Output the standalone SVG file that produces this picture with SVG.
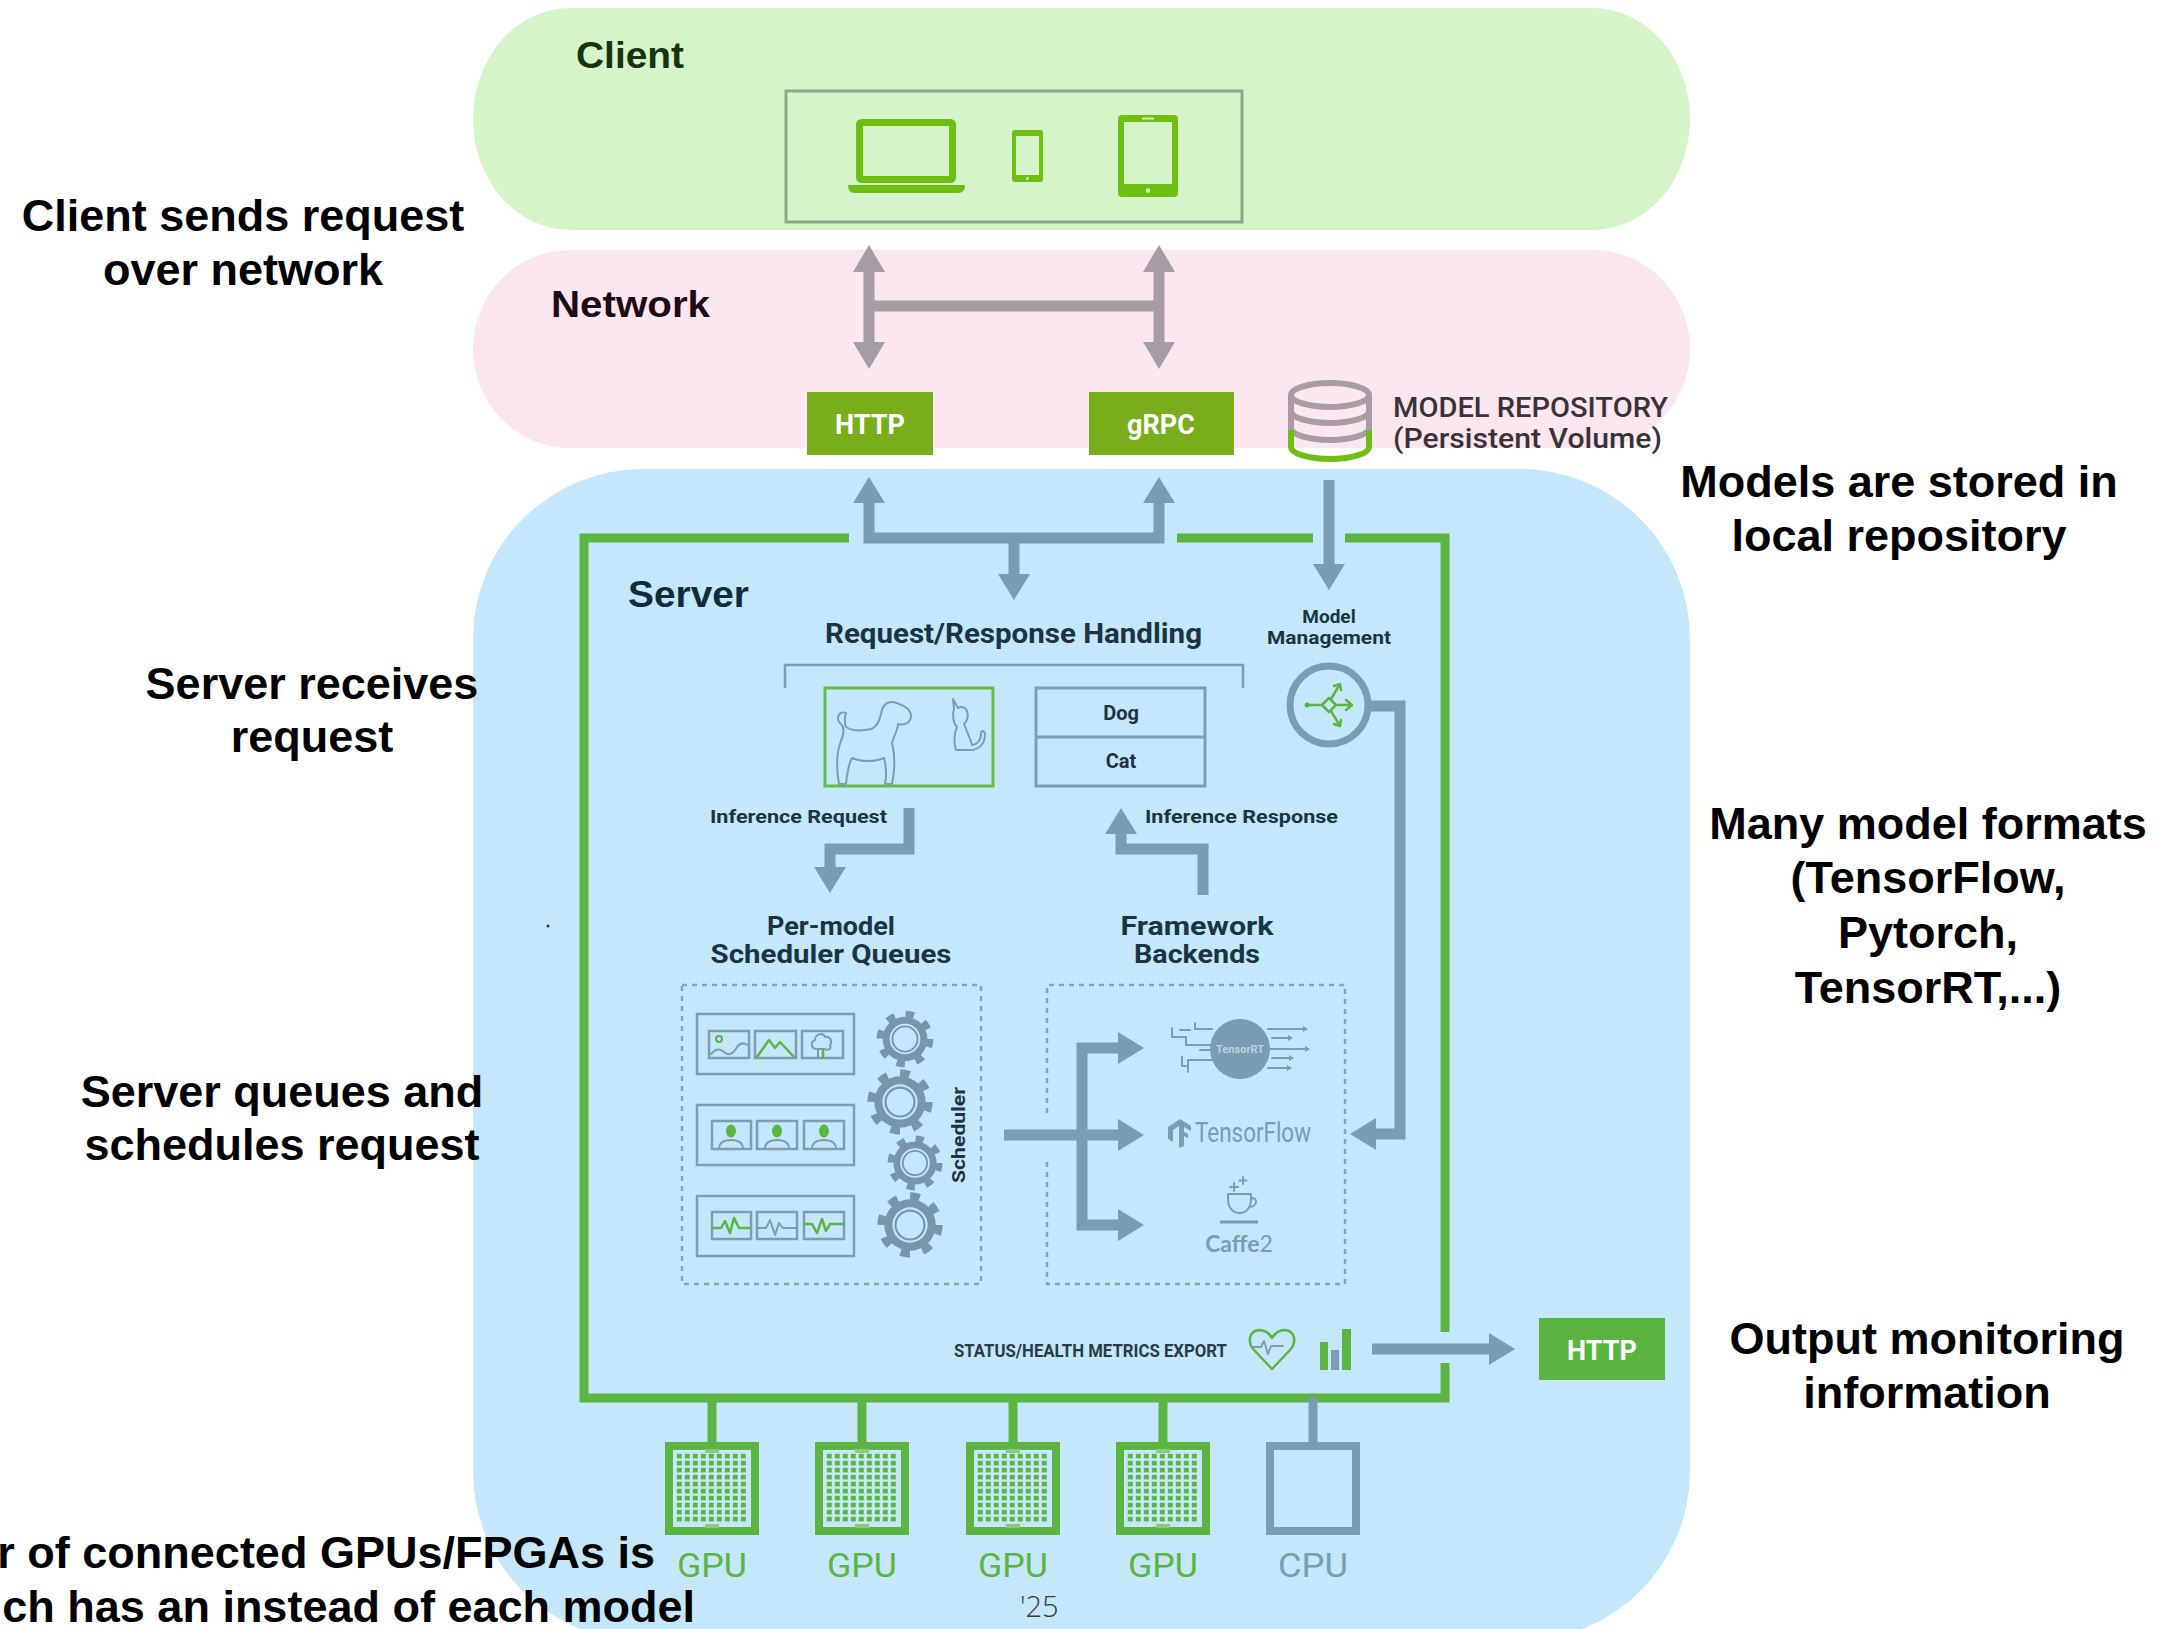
<svg xmlns="http://www.w3.org/2000/svg" xmlns:xlink="http://www.w3.org/1999/xlink" width="2176" height="1629" viewBox="0 0 2176 1629">
<style>
  .ann{font-family:"Liberation Sans",Arial,Helvetica,sans-serif;font-weight:bold;font-size:45px;fill:#000;text-anchor:middle}
  .zone{font-family:"Liberation Sans",Arial,Helvetica,sans-serif;font-weight:bold;font-size:37px}
  .din{font-family:Roboto,"DejaVu Sans",sans-serif;font-weight:bold;fill:#1b3444}
  .thin{fill:none;stroke:#7f9db0;stroke-width:2.5}
  .flow{fill:none;stroke:#7b9cb2;stroke-width:11;stroke-linejoin:miter}
  .net{fill:none;stroke:#a59ca6;stroke-width:11}
  .bus{fill:none;stroke:#5cb443;stroke-width:9}
  .gl{fill:none;stroke:#5cb443;stroke-width:2.5;stroke-linecap:round;stroke-linejoin:round}
  .gy{fill:none;stroke:#7f9db0;stroke-width:2;stroke-linecap:round;stroke-linejoin:round}
  .dev{fill:#6fbf12}
  .btn{font-family:Roboto,"DejaVu Sans",sans-serif;font-weight:bold;font-size:27px;fill:#fff;text-anchor:middle}
  .chip{font-family:Roboto,"Liberation Sans",sans-serif;font-size:33px;text-anchor:middle}
</style>
<defs>
  <marker id="hf" markerUnits="userSpaceOnUse" markerWidth="26" markerHeight="32" viewBox="0 0 26 32" refX="0" refY="16" orient="auto-start-reverse">
    <path d="M0,0 L26,16 L0,32 z" fill="#7b9cb2"/>
  </marker>
  <marker id="hn" markerUnits="userSpaceOnUse" markerWidth="27" markerHeight="32" viewBox="0 0 27 32" refX="0" refY="16" orient="auto-start-reverse">
    <path d="M0,0 L27,16 L0,32 z" fill="#a59ca6"/>
  </marker>
  <pattern id="dots" patternUnits="userSpaceOnUse" x="11" y="11" width="8" height="7">
    <rect x="0.8" y="0.8" width="5" height="4.6" fill="#5cb443"/>
  </pattern>
  <g id="gear">
    <circle r="27" fill="none" stroke="#7895a9" stroke-width="7" stroke-dasharray="9 12.2"/>
    <circle r="24" fill="#7895a9"/>
    <circle r="16.5" fill="#c4e7fb"/>
    <circle r="13.5" fill="none" stroke="#7895a9" stroke-width="2"/>
  </g>
  <g id="gpu">
    <rect x="4" y="4" width="86" height="85" fill="#c4e7fb" stroke="#5cb443" stroke-width="8"/>
    <rect x="11" y="11" width="72" height="70" fill="url(#dots)"/>
    <rect x="40" y="7" width="14" height="4" fill="#8cc97a"/>
    <rect x="40" y="82" width="14" height="4" fill="#8cc97a"/>
  </g>
</defs>

<!-- layer bands -->
<g id="client">
  <rect x="473" y="8" width="1217" height="222" rx="97" ry="111" fill="#d6f4ca"/>
  <text class="zone" x="576" y="68" fill="#17330f" textLength="108" lengthAdjust="spacingAndGlyphs">Client</text>
  <rect x="786" y="91" width="456" height="131" fill="none" stroke="#8ea98a" stroke-width="3"/>
  <!-- laptop -->
  <rect x="859.5" y="122.5" width="93" height="57" rx="2" fill="none" stroke="#6fbf12" stroke-width="7"/>
  <path class="dev" d="M848,185 H965 Q965,193 958,193 H855 Q848,193 848,185 z"/>
  <!-- phone -->
  <rect class="dev" x="1012" y="130" width="31" height="52" rx="3"/>
  <rect x="1016" y="136" width="23" height="39" fill="#d6f4ca"/>
  <circle cx="1027.5" cy="178.5" r="1.5" fill="#d6f4ca"/>
  <!-- tablet -->
  <rect class="dev" x="1118" y="115" width="60" height="82" rx="4"/>
  <rect x="1124" y="122" width="48" height="62" fill="#d6f4ca"/>
  <rect x="1142" y="117.5" width="12" height="2" fill="#d6f4ca"/>
  <circle cx="1148" cy="190.5" r="2.2" fill="#d6f4ca"/>
</g>

<g id="network">
  <rect x="473" y="250" width="1217" height="198" rx="97" ry="99" fill="#fce6ef"/>
  <text class="zone" x="551" y="317" fill="#1e0c15" textLength="159" lengthAdjust="spacingAndGlyphs">Network</text>
</g>

<g id="server-zone">
  <rect x="473" y="469" width="1217" height="1172" rx="170" ry="170" fill="#c4e7fb"/>
</g>

<g id="http-in">
  <rect x="807" y="392" width="126" height="63" fill="#78ad1c"/>
  <text class="btn" x="870" y="434">HTTP</text>
</g>
<g id="grpc-in">
  <rect x="1089" y="392" width="145" height="63" fill="#78ad1c"/>
  <text class="btn" x="1161" y="434">gRPC</text>
</g>

<g id="model-repository">
  <path d="M1291,395 V430 M1369,395 V430" fill="none" stroke="#a99ba7" stroke-width="6"/>
  <ellipse cx="1330" cy="395" rx="39" ry="12" fill="none" stroke="#a99ba7" stroke-width="6"/>
  <path d="M1291,411 A39,12 0 0 0 1369,411 M1291,428 A39,12 0 0 0 1369,428" fill="none" stroke="#a99ba7" stroke-width="6"/>
  <path d="M1291,430 V447 A39,12 0 0 0 1369,447 V430" fill="none" stroke="#6fbf12" stroke-width="6"/>
  <text x="1393" y="417" font-family="Roboto,'DejaVu Sans',sans-serif" font-weight="500" font-size="27" fill="#3b3238" textLength="275" lengthAdjust="spacingAndGlyphs">MODEL REPOSITORY</text>
  <text x="1393" y="448" font-family="Roboto,'DejaVu Sans',sans-serif" font-weight="500" font-size="27" fill="#3b3238" textLength="269" lengthAdjust="spacingAndGlyphs">(Persistent Volume)</text>
</g>

<!-- server frame and hardware bus -->
<g id="server-frame">
  <path class="bus" d="M849,538 H584 V1398 H1445 V1363"/>
  <path class="bus" d="M1177,538 H1313"/>
  <path class="bus" d="M1345,538 H1445 V1332"/>
  <text x="628" y="607" font-family="'Liberation Sans',Arial,sans-serif" font-weight="bold" font-size="37" fill="#0f2b3c" textLength="121" lengthAdjust="spacingAndGlyphs">Server</text>
</g>

<g id="request-response">
  <text class="din" x="825" y="643" font-size="27" textLength="377" lengthAdjust="spacingAndGlyphs">Request/Response Handling</text>
  <path class="thin" d="M785,688 V665 H1243 V688"/>
  <rect x="825" y="688" width="168" height="98" fill="none" stroke="#66bb44" stroke-width="3"/>
  <!-- dog -->
  <path class="gy" d="M846,713 c-7,-3 -11,6 -5,11 c4,4 3,10 0,17 c-4,10 -5,26 -2,43 h7 c1,-10 2,-19 6,-26 c9,4 23,4 32,0 c2,8 3,17 1,26 h7 c3,-14 3,-29 0,-41 c2,-8 6,-13 6,-19 c7,2 13,-2 13,-8 c0,-6 -6,-10 -12,-12 c-7,-4 -15,-2 -17,6 c-2,9 -4,16 -11,19 c-9,2 -19,2 -25,-2 c-2,-6 -1,-11 0,-14 z"/>
  <!-- cat -->
  <path class="gy" d="M953,699 l5,9 c4,-2 7,-1 9,3 c2,6 0,10 -3,13 c3,8 6,14 8,21 c4,0 9,-4 9,-11 c0,-4 3,-4 4,0 c0,11 -7,16 -15,16 h-14 c-2,-7 -2,-16 1,-23 c-4,-4 -5,-13 -3,-18 z"/>
  <rect x="1036" y="688" width="169" height="98" fill="none" stroke="#7f9db0" stroke-width="3"/>
  <line x1="1036" y1="737" x2="1205" y2="737" stroke="#7f9db0" stroke-width="3"/>
  <text class="din" x="1121" y="720" font-size="20" text-anchor="middle">Dog</text>
  <text class="din" x="1121" y="768" font-size="20" text-anchor="middle">Cat</text>
  <text class="din" x="710" y="823" font-size="19" textLength="177" lengthAdjust="spacingAndGlyphs">Inference Request</text>
  <text class="din" x="1145" y="823" font-size="19" textLength="193" lengthAdjust="spacingAndGlyphs">Inference Response</text>
</g>

<g id="model-management">
  <text class="din" x="1329" y="623" font-size="19" text-anchor="middle">Model</text>
  <text class="din" x="1329" y="644" font-size="19" text-anchor="middle" textLength="124" lengthAdjust="spacingAndGlyphs">Management</text>
  <circle cx="1329" cy="705" r="39" fill="none" stroke="#7b9cb2" stroke-width="7"/>
  <circle cx="1307" cy="705" r="2.5" fill="#5cb443"/>
  <path class="gl" d="M1307,705 H1322 M1335,705 H1351 M1346,700 L1352,705 L1346,710 M1331,699 L1340,684 M1334,686 L1340,684 L1341,690 M1331,711 L1340,726 M1334,724 L1340,726 L1341,720"/>
  <path class="gl" d="M1329,698 L1336,705 L1329,712 L1322,705 z"/>
</g>

<g id="scheduler-queues">
  <text class="din" x="831" y="935" font-size="26" text-anchor="middle" textLength="128" lengthAdjust="spacingAndGlyphs">Per-model</text>
  <text class="din" x="831" y="963" font-size="26" text-anchor="middle" textLength="241" lengthAdjust="spacingAndGlyphs">Scheduler Queues</text>
  <rect x="682" y="985" width="299" height="299" fill="none" stroke="#8aa3b3" stroke-width="2.5" stroke-dasharray="5 5"/>
  <!-- image queue -->
  <rect class="thin" x="697" y="1014" width="157" height="60" stroke-width="3"/>
  <rect class="thin" x="709" y="1031" width="40" height="27"/>
  <rect class="thin" x="755" y="1031" width="41" height="27"/>
  <rect class="thin" x="802" y="1031" width="41" height="27"/>
  <circle cx="719" cy="1039" r="3" fill="none" stroke="#5cb443" stroke-width="2"/>
  <path class="gy" d="M711,1054 q7,-8 13,-2 q7,6 13,-5 q5,-6 10,-2"/>
  <path class="gl" d="M757,1057 L769,1040 L775,1048 L780,1042 L794,1057"/>
  <path class="gy" d="M817,1049 c-6,0 -7,-7 -2,-9 c0,-6 8,-8 10,-3 c5,-1 8,4 5,8 c2,4 -2,6 -5,4 z M818,1049 V1057"/>
  <path class="gl" d="M823,1050 V1057"/>
  <!-- portrait queue -->
  <rect class="thin" x="697" y="1105" width="157" height="60" stroke-width="3"/>
  <rect class="thin" x="712" y="1121" width="39" height="28"/>
  <rect class="thin" x="757" y="1121" width="40" height="28"/>
  <rect class="thin" x="804" y="1121" width="40" height="28"/>
  <ellipse cx="731" cy="1131" rx="5" ry="6.5" fill="#5cb443"/>
  <ellipse cx="777" cy="1131" rx="5" ry="6.5" fill="#5cb443"/>
  <ellipse cx="824" cy="1131" rx="5" ry="6.5" fill="#5cb443"/>
  <path class="gy" d="M719,1149 q0,-9 12,-9 q12,0 12,9 M765,1149 q0,-9 12,-9 q12,0 12,9 M812,1149 q0,-9 12,-9 q12,0 12,9"/>
  <!-- waveform queue -->
  <rect class="thin" x="697" y="1196" width="157" height="60" stroke-width="3"/>
  <rect class="thin" x="712" y="1212" width="39" height="27"/>
  <rect class="thin" x="757" y="1212" width="40" height="27"/>
  <rect class="thin" x="804" y="1212" width="40" height="27"/>
  <path class="gl" d="M713,1228 H721 L725,1221 L730,1233 L734,1218 L739,1228 H750"/>
  <path class="gy" d="M758,1228 H766 L770,1220 L775,1235 L779,1223 L783,1228 H796"/>
  <path class="gl" d="M805,1224 H812 L817,1233 L822,1219 L826,1231 L830,1224 H843"/>
  <!-- scheduler gears -->
  <use xlink:href="#gear" href="#gear" transform="translate(905,1039) scale(0.93)"/>
  <use xlink:href="#gear" href="#gear" transform="translate(900,1102) scale(1.07)"/>
  <use xlink:href="#gear" href="#gear" transform="translate(915,1163) scale(0.9)"/>
  <use xlink:href="#gear" href="#gear" transform="translate(910,1225) scale(1.07)"/>
  <text class="din" transform="translate(965,1135) rotate(-90)" font-size="18" text-anchor="middle" textLength="96" lengthAdjust="spacingAndGlyphs">Scheduler</text>
</g>

<g id="framework-backends">
  <text class="din" x="1197" y="935" font-size="26" text-anchor="middle" textLength="153" lengthAdjust="spacingAndGlyphs">Framework</text>
  <text class="din" x="1197" y="963" font-size="26" text-anchor="middle" textLength="126" lengthAdjust="spacingAndGlyphs">Backends</text>
  <path d="M1047,1113 V985 H1345 V1284 H1047 V1157" fill="none" stroke="#8aa3b3" stroke-width="2.5" stroke-dasharray="5 5"/>
  <!-- TensorRT -->
  <circle cx="1240" cy="1049" r="30" fill="#7b9cb2"/>
  <text x="1240" y="1053" font-family="Roboto,'DejaVu Sans',sans-serif" font-size="11" font-weight="bold" fill="#b9d3e2" text-anchor="middle" textLength="48" lengthAdjust="spacingAndGlyphs">TensorRT</text>
  <path class="gy" stroke-width="1.8" d="M1172,1028 V1037 H1186 V1045 H1210 M1180,1030 H1190 M1195,1023 V1029 H1212 M1182,1057 V1066 H1186 M1188,1072 V1060 H1212 M1200,1050 H1210"/>
  <path class="gy" stroke-width="1.8" d="M1268,1029 H1306 M1272,1038 H1290 M1270,1049 H1308 M1272,1058 H1292 M1268,1068 H1290"/>
  <path d="M1303,1026 L1308,1029 L1303,1032 z M1305,1046 L1310,1049 L1305,1052 z M1288,1035 L1293,1038 L1288,1041 z M1289,1055 L1294,1058 L1289,1061 z M1287,1065 L1292,1068 L1287,1071 z" fill="#7f9db0"/>
  <!-- TensorFlow -->
  <path d="M1168,1127 L1180,1119 L1191,1126 V1131 L1184,1127 V1132 L1188,1134 V1138 L1184,1136 V1146 L1179,1148 V1126 L1173,1130 V1142 L1168,1139 z" fill="#7b9cb2"/>
  <text x="1195" y="1142" font-family="Roboto,'Open Sans',sans-serif" font-size="27" fill="#7b9cb2" textLength="116" lengthAdjust="spacingAndGlyphs">TensorFlow</text>
  <!-- Caffe2 -->
  <path class="gy" stroke="#7b9cb2" stroke-width="2.5" d="M1228,1194 H1251 V1199 C1251,1208 1246,1213 1239.5,1213 C1233,1213 1228,1208 1228,1199 z M1251,1198 C1258,1197 1258,1207 1249,1207"/>
  <path d="M1220,1222 H1258" stroke="#7b9cb2" stroke-width="3"/>
  <path class="gy" stroke="#7b9cb2" d="M1234,1183 V1191 M1230,1187 H1238 M1243,1177 V1184 M1239.5,1180.5 H1246.5"/>
  <text x="1239" y="1252" font-family="Lato,'Open Sans',sans-serif" font-size="23" fill="#7b9cb2" text-anchor="middle"><tspan font-weight="bold">Caffe</tspan><tspan>2</tspan></text>
</g>

<g id="metrics-export">
  <text x="954" y="1357" font-family="Roboto,'DejaVu Sans',sans-serif" font-weight="bold" font-size="18" fill="#283c48" textLength="273" lengthAdjust="spacingAndGlyphs">STATUS/HEALTH METRICS EXPORT</text>
  <path class="gl" stroke-width="3" d="M1272,1369 L1254,1350 C1247,1342 1249,1331 1259,1330 C1265,1330 1269,1333 1272,1338 C1275,1333 1279,1330 1285,1330 C1295,1331 1297,1342 1290,1350 z"/>
  <path class="gy" d="M1253,1347 H1261 L1264,1341 L1268,1354 L1271,1346 H1283"/>
  <rect x="1320" y="1342" width="8" height="28" fill="#5cb443"/>
  <rect x="1331" y="1350" width="8" height="20" fill="#7f9db0"/>
  <rect x="1342" y="1329" width="9" height="41" fill="#5cb443"/>
</g>

<g id="http-out">
  <rect x="1539" y="1318" width="126" height="62" fill="#5bb441"/>
  <text class="btn" x="1602" y="1360">HTTP</text>
</g>

<g id="devices">
  <path class="bus" d="M712,1398 V1442 M862,1398 V1442 M1013,1398 V1442 M1163,1398 V1442"/>
  <path d="M1313,1398 V1442" stroke="#7b9cb2" stroke-width="9"/>
  <use xlink:href="#gpu" href="#gpu" x="665" y="1442"/>
  <use xlink:href="#gpu" href="#gpu" x="815" y="1442"/>
  <use xlink:href="#gpu" href="#gpu" x="966" y="1442"/>
  <use xlink:href="#gpu" href="#gpu" x="1116" y="1442"/>
  <rect x="1270" y="1446" width="86" height="85" fill="none" stroke="#7b9cb2" stroke-width="8"/>
  <text class="chip" x="712" y="1577" fill="#5cb443" textLength="70" lengthAdjust="spacingAndGlyphs">GPU</text>
  <text class="chip" x="862" y="1577" fill="#5cb443" textLength="70" lengthAdjust="spacingAndGlyphs">GPU</text>
  <text class="chip" x="1013" y="1577" fill="#5cb443" textLength="70" lengthAdjust="spacingAndGlyphs">GPU</text>
  <text class="chip" x="1163" y="1577" fill="#5cb443" textLength="70" lengthAdjust="spacingAndGlyphs">GPU</text>
  <text class="chip" x="1313" y="1577" fill="#7b9cb2" textLength="70" lengthAdjust="spacingAndGlyphs">CPU</text>
</g>

<!-- connectors -->
<g id="connectors">
  <path class="net" d="M869,272 V342" marker-start="url(#hn)" marker-end="url(#hn)"/>
  <path class="net" d="M1159,272 V342" marker-start="url(#hn)" marker-end="url(#hn)"/>
  <path class="net" d="M869,306 H1159"/>
  <path class="flow" d="M869,503 V538 H1159 V503" marker-start="url(#hf)" marker-end="url(#hf)"/>
  <path class="flow" d="M1014,538 V574" marker-end="url(#hf)"/>
  <path class="flow" d="M1329,480 V564" marker-end="url(#hf)"/>
  <path class="flow" d="M909,808 V849 H830 V867" marker-end="url(#hf)"/>
  <path class="flow" d="M1203,895 V849 H1121 V834" marker-end="url(#hf)"/>
  <path class="flow" d="M1368,706 H1400 V1134 H1376" marker-end="url(#hf)"/>
  <path class="flow" d="M1004,1135 H1118" marker-end="url(#hf)"/>
  <path class="flow" d="M1118,1048 H1082 V1225 H1118" marker-start="url(#hf)" marker-end="url(#hf)"/>
  <path class="flow" d="M1372,1349 H1489" marker-end="url(#hf)"/>
</g>

<!-- side notes -->
<g id="notes">
  <text class="ann" x="243" y="231">Client sends request</text>
  <text class="ann" x="243" y="285">over network</text>
  <text class="ann" x="312" y="699">Server receives</text>
  <text class="ann" x="312" y="752">request</text>
  <text class="ann" x="282" y="1107">Server queues and</text>
  <text class="ann" x="282" y="1160">schedules request</text>
  <text class="ann" x="1899" y="497">Models are stored in</text>
  <text class="ann" x="1899" y="551">local repository</text>
  <text class="ann" x="1928" y="839">Many model formats</text>
  <text class="ann" x="1928" y="893">(TensorFlow,</text>
  <text class="ann" x="1928" y="948">Pytorch,</text>
  <text class="ann" x="1928" y="1003">TensorRT,...)</text>
  <text class="ann" x="1927" y="1354">Output monitoring</text>
  <text class="ann" x="1927" y="1408">information</text>
  <text class="ann" x="655" y="1568" text-anchor="end" style="text-anchor:end">r of connected GPUs/FPGAs is</text>
  <text class="ann" x="695" y="1622" text-anchor="end" style="text-anchor:end">ch has an instead of each model</text>
  <circle cx="548" cy="926" r="1.5" fill="#333"/>
  <text x="1020" y="1617" font-family="'Open Sans',sans-serif" font-weight="300" font-size="29" fill="#3a3a3a">'25</text>
</g>
</svg>
